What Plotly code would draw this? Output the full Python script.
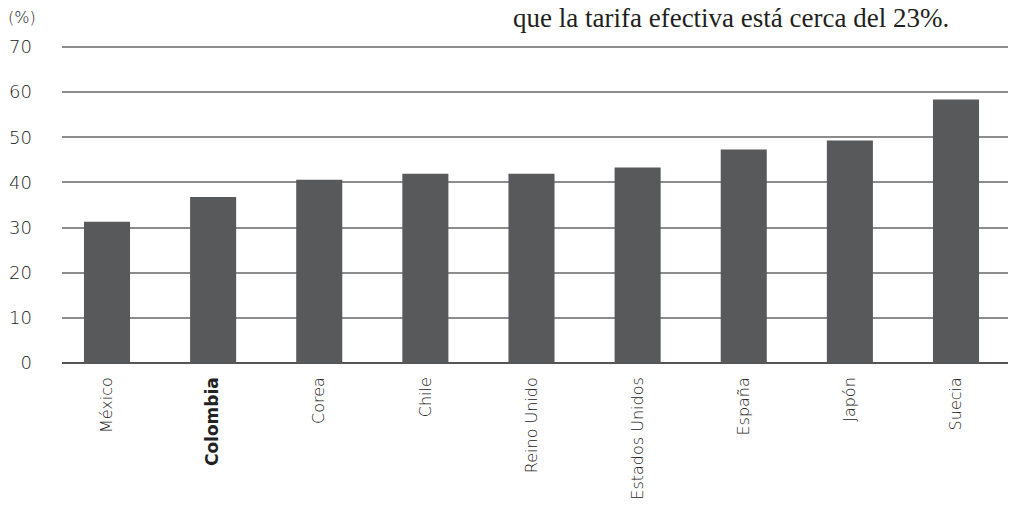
import plotly.graph_objects as go

countries = ["México", "<span style='font-size:17px'><b>Colombia</b></span>", "Corea", "Chile", "Reino Unido",
             "Estados Unidos", "España", "Japón", "Suecia"]
values = [31.3, 36.8, 40.6, 41.9, 41.9, 43.3, 47.3, 49.3, 58.4]
y_ticks = [0, 10, 20, 30, 40, 50, 60, 70]

W, H = 1009, 516
L, R, T, B = 62, 1, 45, 153
SANS = "'DejaVu Sans', sans-serif"

fig = go.Figure()
fig.add_trace(go.Bar(
    x=list(range(len(countries))), y=values,
    marker=dict(color="#58595b", line=dict(width=0)),
    width=0.434,
))

fig.update_layout(
    width=W, height=H,
    margin=dict(l=L, r=R, t=T, b=B),
    paper_bgcolor="white", plot_bgcolor="white",
    showlegend=False,
    font=dict(family=SANS, color="#222"),
    title=dict(
        text="que la tarifa efectiva está cerca del 23%.",
        font=dict(family="Liberation Serif, serif", size=27, color="#231f20"),
        xref="container", yref="container",
        x=513 / W, xanchor="left",
        y=1 - 18 / H, yanchor="middle",
    ),
    xaxis=dict(
        tickmode="array",
        tickvals=list(range(len(countries))),
        ticktext=countries,
        tickangle=-90,
        range=[-0.424, 8.49],
        showgrid=False, zeroline=False, showline=False,
        ticks="", ticklabelstandoff=10,
        tickfont=dict(family=SANS, size=16, color="#222", weight=300),
        fixedrange=True,
    ),
    yaxis=dict(
        range=[0, 70.45],
        tickmode="array", tickvals=y_ticks,
        showgrid=True, gridcolor="#8c8c8c", gridwidth=1.5,
        zeroline=True, zerolinecolor="#555", zerolinewidth=1.5,
        showline=False, ticks="",
        ticklabelstandoff=29,
        tickfont=dict(family=SANS, size=18, color="#222", weight=300),
        fixedrange=True,
    ),
    annotations=[dict(
        text="(%)", xref="paper", yref="paper",
        x=-56 / (W - L - R), xanchor="left",
        y=(H - B - 18) / (H - T - B), yanchor="middle",
        showarrow=False,
        font=dict(family=SANS, size=16, color="#222", weight=300),
    )],
)

fig.write_html("out.html")
